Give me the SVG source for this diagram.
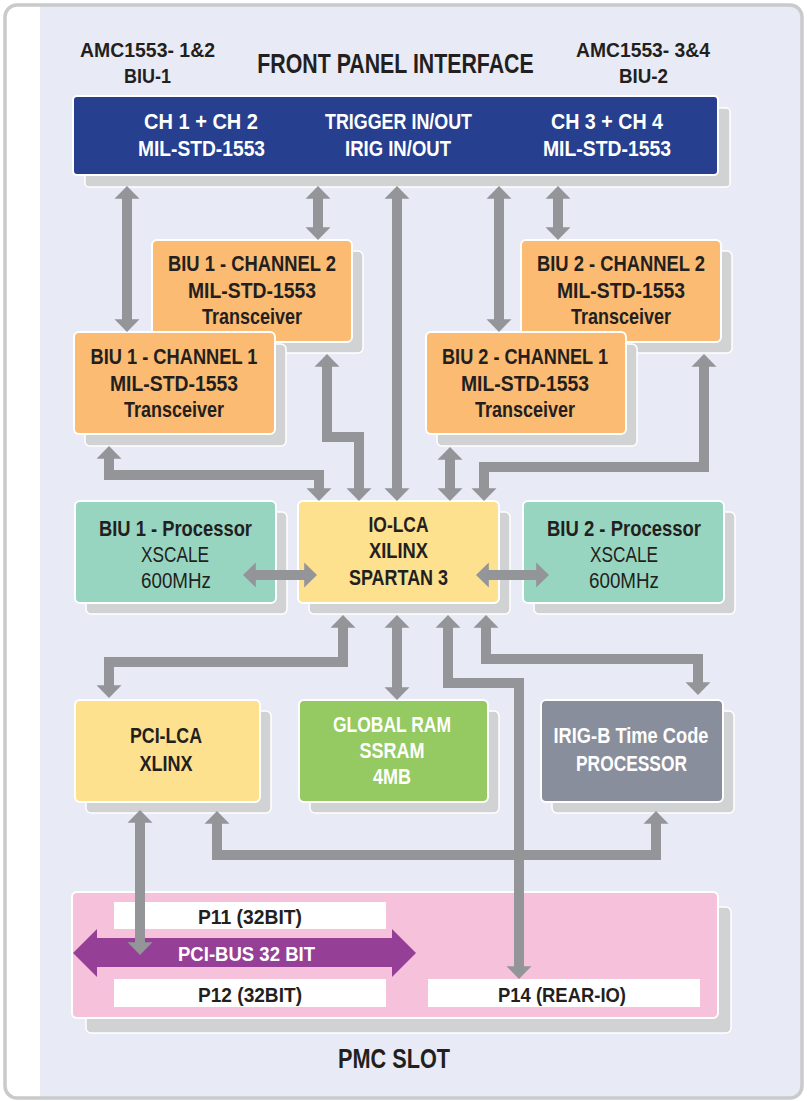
<svg xmlns="http://www.w3.org/2000/svg" width="807" height="1101" viewBox="0 0 807 1101">
<style>
.t{font-family:"Liberation Sans Narrow","Liberation Sans",Arial,sans-serif;font-weight:bold;fill:#231f20;text-anchor:middle}
.n{font-weight:normal}
.w{fill:#ffffff}
.s20{font-size:20px}.s21{font-size:21px}.s22{font-size:22px}.s27{font-size:27px}
.sh{fill:#d1d2d4;stroke:#ffffff;stroke-width:1.5}
.bx{stroke:#ffffff;stroke-width:2}
.c{fill:none;stroke:#939598;stroke-width:10;stroke-linejoin:miter;marker-start:url(#ah);marker-end:url(#ah)}
</style>
<defs>
<clipPath id="fr"><rect x="5" y="5" width="797" height="1093" rx="12"/></clipPath>
<marker id="ah" markerUnits="userSpaceOnUse" markerWidth="14" markerHeight="26" viewBox="-1 -13 14 26" refX="0" refY="0" orient="auto-start-reverse"><path d="M-0.8,-12.5 L12,0 L-0.8,12.5 Z" fill="#939598"/></marker>
</defs>
<rect x="0" y="0" width="807" height="1101" fill="#ffffff"/>
<g clip-path="url(#fr)"><rect x="5" y="5" width="797" height="1093" fill="#ffffff"/><rect x="40" y="5" width="765" height="1095" fill="#e8ebf5"/></g>
<rect x="5" y="5" width="797" height="1093" rx="12" fill="none" stroke="#c9cacc" stroke-width="3.5"/>

<g id="header">
<text class="t s20" x="147.5" y="57" textLength="135" lengthAdjust="spacingAndGlyphs">AMC1553- 1&amp;2</text>
<text class="t s20" x="147.5" y="83" textLength="47" lengthAdjust="spacingAndGlyphs">BIU-1</text>
<text class="t s27" transform="translate(395.5,73) scale(0.79,1)" x="0" y="0">FRONT PANEL INTERFACE</text>
<text class="t s20" x="643" y="57" textLength="134" lengthAdjust="spacingAndGlyphs">AMC1553- 3&amp;4</text>
<text class="t s20" x="643.5" y="83" textLength="49" lengthAdjust="spacingAndGlyphs">BIU-2</text>
</g>

<g id="front-panel">
<rect class="sh" x="85" y="108" width="645" height="79" rx="4"/>
<rect class="bx" x="73" y="96" width="645" height="79" rx="4" fill="#263f8e"/>
<text class="t s22 w" x="201" y="129" textLength="114" lengthAdjust="spacingAndGlyphs">CH 1 + CH 2</text>
<text class="t s22 w" x="201.5" y="156" textLength="127" lengthAdjust="spacingAndGlyphs">MIL-STD-1553</text>
<text class="t s22 w" x="398.5" y="129" textLength="147" lengthAdjust="spacingAndGlyphs">TRIGGER IN/OUT</text>
<text class="t s22 w" x="398" y="156" textLength="106" lengthAdjust="spacingAndGlyphs">IRIG IN/OUT</text>
<text class="t s22 w" x="607" y="129" textLength="112" lengthAdjust="spacingAndGlyphs">CH 3 + CH 4</text>
<text class="t s22 w" x="607" y="156" textLength="128" lengthAdjust="spacingAndGlyphs">MIL-STD-1553</text>
</g>

<g id="biu1-ch2">
<rect class="sh" x="163" y="251" width="200" height="102" rx="5"/>
<rect class="bx" x="152" y="240" width="200" height="102" rx="5" fill="#fbbb72"/>
<text class="t s22" x="252" y="271" textLength="168" lengthAdjust="spacingAndGlyphs">BIU 1 - CHANNEL 2</text>
<text class="t s22" x="252" y="298" textLength="128" lengthAdjust="spacingAndGlyphs">MIL-STD-1553</text>
<text class="t s22" x="252" y="324" textLength="100" lengthAdjust="spacingAndGlyphs">Transceiver</text>
</g>
<g id="biu1-ch1">
<rect class="sh" x="85" y="344" width="201" height="102" rx="5"/>
<rect class="bx" x="74" y="332" width="201" height="102" rx="5" fill="#fbbb72"/>
<text class="t s22" x="174" y="364" textLength="167" lengthAdjust="spacingAndGlyphs">BIU 1 - CHANNEL 1</text>
<text class="t s22" x="174" y="391" textLength="128" lengthAdjust="spacingAndGlyphs">MIL-STD-1553</text>
<text class="t s22" x="174" y="417" textLength="100" lengthAdjust="spacingAndGlyphs">Transceiver</text>
</g>
<g id="biu2-ch2">
<rect class="sh" x="532" y="251" width="200" height="102" rx="5"/>
<rect class="bx" x="521" y="240" width="200" height="102" rx="5" fill="#fbbb72"/>
<text class="t s22" x="621" y="271" textLength="168" lengthAdjust="spacingAndGlyphs">BIU 2 - CHANNEL 2</text>
<text class="t s22" x="621" y="298" textLength="128" lengthAdjust="spacingAndGlyphs">MIL-STD-1553</text>
<text class="t s22" x="621" y="324" textLength="100" lengthAdjust="spacingAndGlyphs">Transceiver</text>
</g>
<g id="biu2-ch1">
<rect class="sh" x="437" y="344" width="200" height="102" rx="5"/>
<rect class="bx" x="426" y="332" width="200" height="102" rx="5" fill="#fbbb72"/>
<text class="t s22" x="525" y="364" textLength="166" lengthAdjust="spacingAndGlyphs">BIU 2 - CHANNEL 1</text>
<text class="t s22" x="525" y="391" textLength="128" lengthAdjust="spacingAndGlyphs">MIL-STD-1553</text>
<text class="t s22" x="525" y="417" textLength="100" lengthAdjust="spacingAndGlyphs">Transceiver</text>
</g>

<g id="biu1-proc">
<rect class="sh" x="86" y="512" width="201" height="102" rx="5"/>
<rect class="bx" x="75" y="501" width="201" height="102" rx="5" fill="#98d5c1"/>
<text class="t s22" x="175.5" y="536" textLength="153" lengthAdjust="spacingAndGlyphs">BIU 1 - Processor</text>
<text class="t n s22" x="175" y="562" textLength="68" lengthAdjust="spacingAndGlyphs">XSCALE</text>
<text class="t n s22" x="176" y="588" textLength="70" lengthAdjust="spacingAndGlyphs">600MHz</text>
</g>
<g id="io-lca">
<rect class="sh" x="309" y="512" width="201" height="102" rx="5"/>
<rect class="bx" x="298" y="501" width="201" height="102" rx="5" fill="#fde18f"/>
<text class="t s22" x="398.5" y="532" textLength="60" lengthAdjust="spacingAndGlyphs">IO-LCA</text>
<text class="t s22" x="398.5" y="558" textLength="59" lengthAdjust="spacingAndGlyphs">XILINX</text>
<text class="t s22" x="398.5" y="585" textLength="99" lengthAdjust="spacingAndGlyphs">SPARTAN 3</text>
</g>
<g id="biu2-proc">
<rect class="sh" x="534" y="512" width="201" height="102" rx="5"/>
<rect class="bx" x="523" y="501" width="201" height="102" rx="5" fill="#98d5c1"/>
<text class="t s22" x="624" y="536" textLength="154" lengthAdjust="spacingAndGlyphs">BIU 2 - Processor</text>
<text class="t n s22" x="624" y="562" textLength="68" lengthAdjust="spacingAndGlyphs">XSCALE</text>
<text class="t n s22" x="624" y="588" textLength="70" lengthAdjust="spacingAndGlyphs">600MHz</text>
</g>

<g id="pci-lca">
<rect class="sh" x="86" y="711" width="185" height="102" rx="5"/>
<rect class="bx" x="75" y="700" width="185" height="102" rx="5" fill="#fde18f"/>
<text class="t s22" x="166" y="743" textLength="72" lengthAdjust="spacingAndGlyphs">PCI-LCA</text>
<text class="t s22" x="166" y="771" textLength="53" lengthAdjust="spacingAndGlyphs">XLINX</text>
</g>
<g id="global-ram">
<rect class="sh" x="310" y="711" width="189" height="102" rx="5"/>
<rect class="bx" x="299" y="700" width="189" height="102" rx="5" fill="#95c962"/>
<text class="t s22 w" x="392" y="732" textLength="118" lengthAdjust="spacingAndGlyphs">GLOBAL RAM</text>
<text class="t s22 w" x="392" y="758" textLength="65" lengthAdjust="spacingAndGlyphs">SSRAM</text>
<text class="t s22 w" x="392" y="784" textLength="38" lengthAdjust="spacingAndGlyphs">4MB</text>
</g>
<g id="irig">
<rect class="sh" x="552" y="711" width="182" height="102" rx="5"/>
<rect class="bx" x="541" y="700" width="182" height="102" rx="5" fill="#898e9c"/>
<text class="t s22 w" x="631" y="743" textLength="155" lengthAdjust="spacingAndGlyphs">IRIG-B Time Code</text>
<text class="t s22 w" x="631.5" y="771" textLength="111" lengthAdjust="spacingAndGlyphs">PROCESSOR</text>
</g>

<g id="pmc-slot">
<rect class="sh" x="86" y="907" width="645" height="126" rx="5"/>
<rect class="bx" x="72" y="892" width="646" height="126" rx="5" fill="#f6c1da"/>
<rect x="114" y="902" width="272" height="27" fill="#ffffff"/>
<rect x="114" y="979" width="272" height="28" fill="#ffffff"/>
<rect x="428" y="979" width="272" height="28" fill="#ffffff"/>
<text class="t s20" x="250" y="924" textLength="104" lengthAdjust="spacingAndGlyphs">P11 (32BIT)</text>
<text class="t s20" x="250" y="1002" textLength="104" lengthAdjust="spacingAndGlyphs">P12 (32BIT)</text>
<text class="t s20" x="562" y="1002" textLength="128" lengthAdjust="spacingAndGlyphs">P14 (REAR-IO)</text>
<text class="t s27" x="394" y="1068" textLength="112" lengthAdjust="spacingAndGlyphs">PMC SLOT</text>
</g>
<g id="pci-bus">
<polygon points="73,953 97,929 97,938 392,938 392,929 416,953 392,977 392,967 97,967 97,977" fill="#963f96"/>
<text class="t s21 w" x="246.5" y="961" textLength="137" lengthAdjust="spacingAndGlyphs">PCI-BUS 32 BIT</text>
</g>

<g id="connectors">
<path class="c" d="M127,198 V320"/>
<path class="c" d="M318,198 V228"/>
<path class="c" d="M397,198 V489"/>
<path class="c" d="M499,198 V320"/>
<path class="c" d="M558,198 V228"/>
<path class="c" d="M109,458 V475 H319 V489"/>
<path class="c" d="M327,366 V437 H359 V489"/>
<path class="c" d="M450,459 V489"/>
<path class="c" d="M704,366 V467 H484 V489"/>
<path class="c" d="M255,575 H305"/>
<path class="c" d="M488,575 H537"/>
<path class="c" d="M343,627 V662 H109 V686"/>
<path class="c" d="M397,627 V688"/>
<path class="c" d="M486,627 V659 H698 V683"/>
<path class="c" d="M217,823 V855 H656 V823"/>
<path class="c" d="M448,627 V683 H519 V967"/>
<path class="c" d="M140,822 V943"/>
</g>
</svg>
